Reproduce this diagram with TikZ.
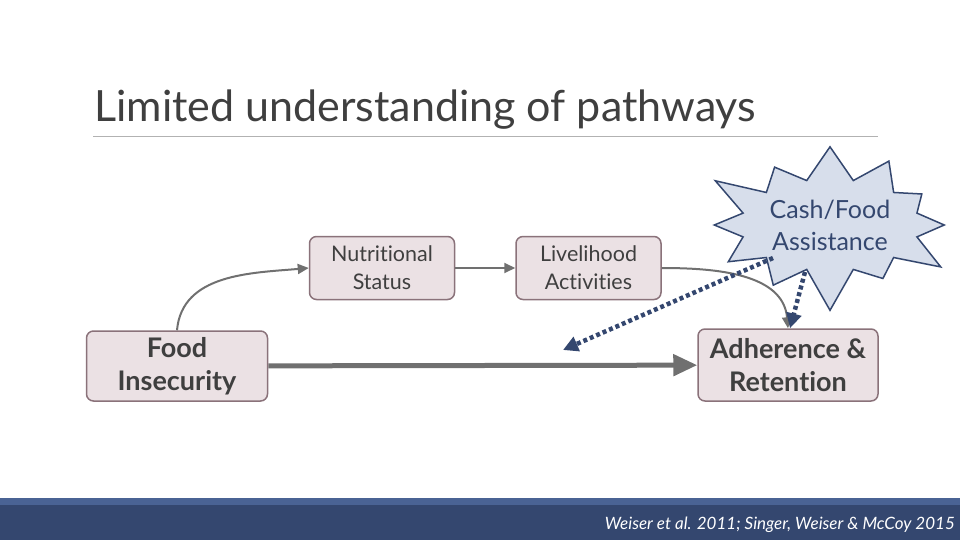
\documentclass[tikz,border=0pt]{standalone}
\usepackage{fontspec}
\setmainfont{Lato}[Ligatures=NoCommon]
\usetikzlibrary{shapes,shapes.symbols,arrows.meta,positioning,calc}

\definecolor{boxfill}{HTML}{EBE1E4}
\definecolor{boxline}{HTML}{8A727A}
\definecolor{inkgray}{HTML}{3F3F3F}
\definecolor{linkgray}{HTML}{707070}
\definecolor{navy}{HTML}{34476F}
\definecolor{navylight}{HTML}{4A6394}
\definecolor{starfill}{HTML}{D7DEEB}

\begin{document}
\begin{tikzpicture}[
    x=1pt, y=-1pt,
    node distance=1cm and 60pt,
    factor/.style={rectangle, draw=boxline, line width=1.5pt, fill=boxfill, text=inkgray, align=center, rounded corners=7pt, font=\fontsize{21.5}{28}\selectfont},
    keyfactor/.style={factor, font=\fontsize{27}{33}\selectfont\bfseries},
    arrow/.style={-{Triangle[length=11pt, width=10pt]}, draw=linkgray, line width=2pt},
    thickarrow/.style={-{Triangle[length=24pt, width=21pt]}, draw=linkgray, line width=5pt},
    dottedarrow/.style={-{Triangle[length=15pt, width=15pt]}, draw=navy, line width=4.5pt, dash pattern=on 4pt off 3pt}
]
\useasboundingbox (0,0) rectangle (960,540);

% Title
\node[anchor=base west, text=inkgray, font=\fontsize{43}{50}\selectfont, inner sep=0pt] (title) at (94,122) {Limited understanding of pathways};
\draw[gray!60, line width=0.8pt] (93,136) -- (878,136);

% Food Insecurity
\node[keyfactor, minimum width=181pt, minimum height=70pt] (food) at (177,366) {Food\\Insecurity};

% Nutritional Status
\node[factor, minimum width=145pt, minimum height=63pt] (nutr) at (382,268) {Nutritional\\Status};

% Livelihood Activities
\node[factor, minimum width=145pt, minimum height=63pt, right=of nutr] (live) {Livelihood\\Activities};

% Adherence & Retention
\node[keyfactor, minimum width=180pt, minimum height=72pt] (adh) at (788,365) {Adherence \&\\Retention};

% Cash/Food Assistance
\node[starburst, starburst points=12, starburst point height=45pt, draw=navy, line width=1.5pt, fill=starfill, text=navy, align=center, font=\fontsize{25}{32}\selectfont, minimum width=228pt, minimum height=182pt] (cash) at (830,225) {Cash/Food\\Assistance};

\coordinate (gap) at (563,350);
\coordinate (src1) at (773,258);
\coordinate (src2) at (805,272);

% Arrows
\draw[arrow] (food.north) to[out=85, in=185] (nutr.west);
\draw[arrow] (nutr) -- (live);
\draw[arrow] (live.east) to[out=0, in=95] (adh.north);
\draw[thickarrow] (food) -- (adh);
\draw[dottedarrow] (src1) -- (gap);
\draw[dottedarrow] (src2) -- ([xshift=2pt]adh.north);

% Footer
\fill[navy] (0,498) rectangle (960,540);
\fill[navylight] (0,498) rectangle (960,505);
\node[anchor=base east, text=white, font=\fontsize{17}{20}\selectfont\itshape, inner sep=0pt] (cite) at (955,529) {Weiser et al. 2011; Singer, Weiser \& McCoy 2015};

\end{tikzpicture}
\end{document}
